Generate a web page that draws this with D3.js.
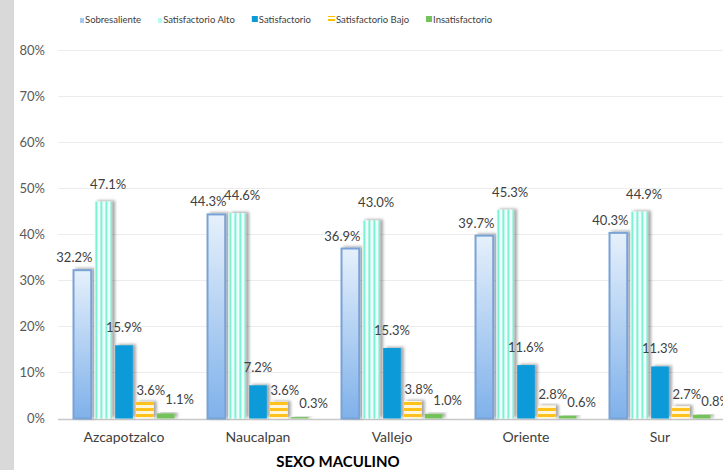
<!DOCTYPE html>
<html>
<head>
<meta charset="utf-8">
<script src="https://cdn.jsdelivr.net/npm/d3@7/dist/d3.min.js"></script>
<style>
  body { margin: 0; background: #fff; }
  svg { display: block; font-family: Lato, "Open Sans", sans-serif; }
</style>
</head>
<body>
<svg id="chart" width="723" height="470"></svg>
<script>
// data
var cats = ["Azcapotzalco", "Naucalpan", "Vallejo", "Oriente", "Sur"];
var series = ["Sobresaliente", "Satisfactorio Alto", "Satisfactorio", "Satisfactorio Bajo", "Insatisfactorio"];
var sobresaliente = [32.2, 44.3, 36.9, 39.7, 40.3];
var satAlto = [47.1, 44.6, 43.0, 45.3, 44.9];
var satisfactorio = [15.9, 7.2, 15.3, 11.6, 11.3];
var satBajo = [3.6, 3.6, 3.8, 2.8, 2.7];
var insatisfactorio = [1.1, 0.3, 1.0, 0.6, 0.8];
var yTicks = [0, 10, 20, 30, 40, 50, 60, 70, 80];
var title = "SEXO MACULINO";

var values = [sobresaliente, satAlto, satisfactorio, satBajo, insatisfactorio];
var fills = ["url(#gSob)", "url(#pAlto)", "#0a9ad8", "url(#pBajo)", "#74c25a"];
// label nudges per series (dx, dy above bar top)
var lblDx = [-8, 5, 0, 6, 14];
var lblDy = [-8, -13, -13, -7, -9];

var svg = d3.select("#chart");
var defs = svg.append("defs");

var g1 = defs.append("linearGradient").attr("id", "gSob")
  .attr("x1", 0).attr("y1", 0).attr("x2", 0).attr("y2", 1);
g1.append("stop").attr("offset", "0%").attr("stop-color", "#e6f0fb");
g1.append("stop").attr("offset", "100%").attr("stop-color", "#7fb1ea");

var pa = defs.append("pattern").attr("id", "pAlto").attr("patternUnits", "userSpaceOnUse")
  .attr("width", 5).attr("height", 5);
pa.append("rect").attr("width", 5).attr("height", 5).attr("fill", "#effffb");
pa.append("rect").attr("width", 2).attr("height", 5).attr("fill", "#7df0d6");

var pb = defs.append("pattern").attr("id", "pBajo").attr("patternUnits", "userSpaceOnUse")
  .attr("width", 6).attr("height", 6);
pb.append("rect").attr("width", 6).attr("height", 6).attr("fill", "#fff6dc");
pb.append("rect").attr("width", 6).attr("height", 3).attr("fill", "#ffc21a");

var pl = defs.append("pattern").attr("id", "pBajoL").attr("patternUnits", "userSpaceOnUse")
  .attr("width", 4).attr("height", 4);
pl.append("rect").attr("width", 4).attr("height", 4).attr("fill", "#fff");
pl.append("rect").attr("width", 4).attr("height", 2).attr("fill", "#ffc000");

var sh = defs.append("filter").attr("id", "shadow")
  .attr("x", "-50%").attr("y", "-20%").attr("width", "200%").attr("height", "140%");
sh.append("feDropShadow").attr("dx", 3).attr("dy", -1).attr("stdDeviation", 1.8)
  .attr("flood-color", "#000").attr("flood-opacity", 0.35);

// grey strip on the left
svg.append("rect").attr("x", 0).attr("y", 0).attr("width", 14).attr("height", 470).attr("fill", "#d9d9d9");

var x0 = d3.scaleBand().domain(cats).range([57, 727]).paddingInner(0.2).paddingOuter(0.1);
var x1 = d3.scaleBand().domain(d3.range(series.length)).range([0, x0.bandwidth()]).padding(0.15);
var y = d3.scaleLinear().domain([0, 80]).range([418.5, 50]);

// grid
svg.append("g").selectAll("line").data(yTicks).enter().append("line")
  .attr("x1", 58).attr("x2", 723)
  .attr("y1", function(d) { return Math.round(y(d)) + 0.5; })
  .attr("y2", function(d) { return Math.round(y(d)) + 0.5; })
  .attr("stroke", function(d) { return d == 0 ? "#c8c8c8" : "#ececec"; })
  .attr("stroke-width", function(d) { return d == 0 ? 1.5 : 1; });

var yAxis = svg.append("g").attr("transform", "translate(45,0)")
  .call(d3.axisLeft(y).tickValues(yTicks).tickSize(0).tickPadding(0).tickFormat(function(d) { return d + "%"; }));
yAxis.select(".domain").remove();
yAxis.selectAll("text").attr("fill", "#595959").style("font-size", "13px")
  .style("font-family", "Lato, sans-serif");

// bars
var groups = svg.append("g").selectAll("g").data(cats).enter().append("g")
  .attr("transform", function(d) { return "translate(" + x0(d) + ",0)"; });

groups.each(function(c, ci) {
  var gg = d3.select(this);
  series.forEach(function(s, si) {
    var v = values[si][ci];
    var top = y(v);
    var r = gg.append("rect")
      .attr("x", x1(si))
      .attr("y", top)
      .attr("width", x1.bandwidth())
      .attr("height", y(0) - top)
      .attr("fill", fills[si])
      .attr("filter", "url(#shadow)");
    if (si == 0) r.attr("stroke", "#79a3d6").attr("stroke-width", 2);
  });
  series.forEach(function(s, si) {
    var v = values[si][ci];
    gg.append("text")
      .attr("x", x1(si) + x1.bandwidth() / 2 + lblDx[si])
      .attr("y", Math.min(y(v), y(0) - 2) + lblDy[si])
      .attr("text-anchor", "middle")
      .attr("fill", "#404040")
      .style("font-size", "13px")
      .text(v.toFixed(1) + "%");
  });
});

// category labels
svg.append("g").selectAll("text").data(cats).enter().append("text")
  .attr("x", function(d) { return x0(d) + x0.bandwidth() / 2; })
  .attr("y", 442)
  .attr("text-anchor", "middle")
  .attr("fill", "#404040")
  .style("font-size", "14px")
  .text(function(d) { return d; });

svg.append("text").attr("x", 338).attr("y", 467).attr("text-anchor", "middle")
  .attr("fill", "#000").style("font-size", "15px").style("font-weight", "bold")
  .text(title);

// legend
var lg = svg.append("g").attr("transform", "translate(80,19)");
var lx = 0;
var markFill = ["#a9c8ee", "#aaffee", "#0a9ad8", "url(#pBajoL)", "#74c25a"];
series.forEach(function(s, si) {
  var w = si == 3 ? 7 : (si < 2 ? 4 : 6);
  lg.append("rect").attr("x", lx).attr("y", si < 2 ? -1 : -3).attr("width", w).attr("height", si < 2 ? 5 : 6)
    .attr("fill", markFill[si]);
  var t = lg.append("text").attr("x", lx + w + 1).attr("y", 4)
    .attr("fill", "#404040").style("font-size", "9.5px").text(s);
  lx = lx + w + 1 + t.node().getComputedTextLength() + 17;
});
</script>
</body>
</html>
